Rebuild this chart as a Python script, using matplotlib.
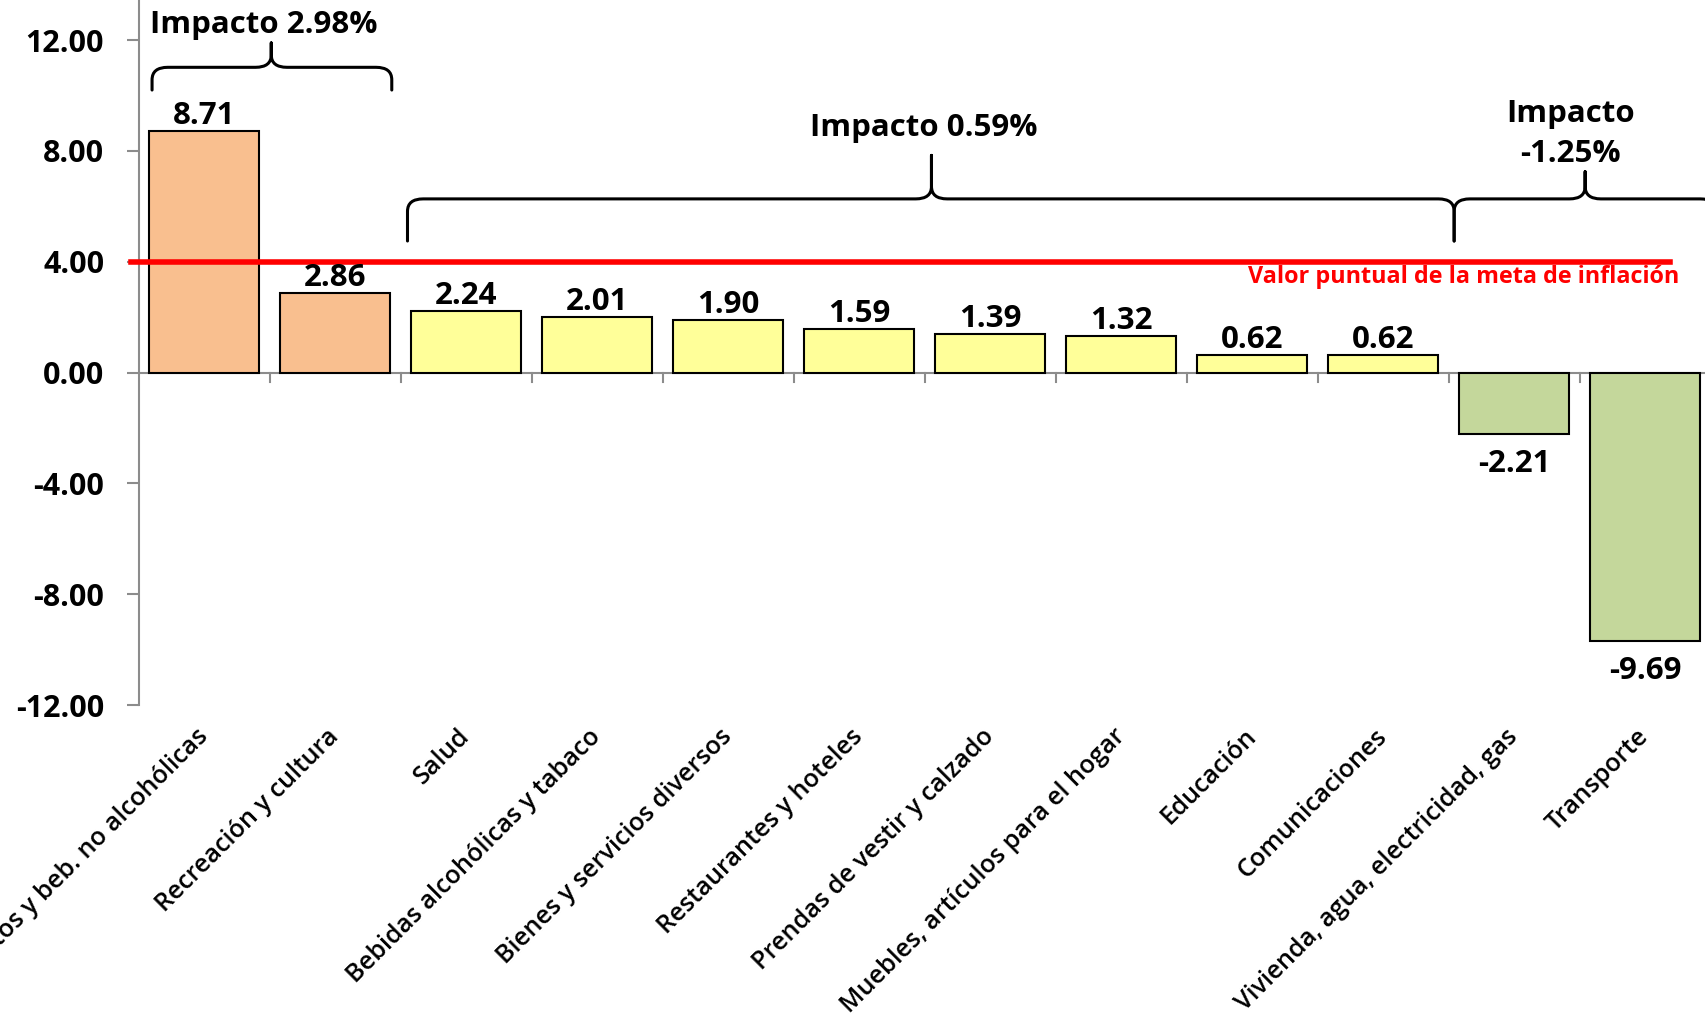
import matplotlib
matplotlib.use("Agg")
import matplotlib.pyplot as plt
from matplotlib.path import Path
from matplotlib.patches import PathPatch

categories = ["Alimentos y beb. no alcohólicas", "Recreación y cultura", "Salud",
              "Bebidas alcohólicas y tabaco", "Bienes y servicios diversos",
              "Restaurantes y hoteles", "Prendas de vestir y calzado",
              "Muebles, artículos para el hogar", "Educación", "Comunicaciones",
              "Vivienda, agua, electricidad, gas", "Transporte"]
values = [8.71, 2.86, 2.24, 2.01, 1.90, 1.59, 1.39, 1.32, 0.62, 0.62, -2.21, -9.69]
groups = ["alto", "alto", "medio", "medio", "medio", "medio", "medio", "medio",
          "medio", "medio", "bajo", "bajo"]
group_colors = {"alto": "#F9BF8F", "medio": "#FFFF99", "bajo": "#C4D79B"}
meta = 4.0
yticks = [-12, -8, -4, 0, 4, 8, 12]

plt.rcParams["font.family"] = ["Open Sans", "DejaVu Sans"]
AXIS_GRAY = "#8C8C8C"
BOLD = "bold"
BIG = 22.5


def brace(ax, x0, x1, xt, yl, ye, yt, rx=0.12, ry=0.45):
    verts = [(x0, ye), (x0, yl - ry), (x0, yl), (x0 + rx, yl),
             (xt - rx, yl), (xt, yl), (xt, yl + ry), (xt, yt),
             (xt, yl + ry), (xt, yl), (xt + rx, yl),
             (x1 - rx, yl), (x1, yl), (x1, yl - ry), (x1, ye)]
    codes = [Path.MOVETO, Path.LINETO, Path.CURVE3, Path.CURVE3,
             Path.LINETO, Path.CURVE3, Path.CURVE3, Path.LINETO,
             Path.LINETO, Path.CURVE3, Path.CURVE3,
             Path.LINETO, Path.CURVE3, Path.CURVE3, Path.LINETO]
    ax.add_patch(PathPatch(Path(verts, codes), fill=False, lw=2.2,
                           edgecolor="black", clip_on=False,
                           joinstyle="round", capstyle="round"))


fig = plt.figure(figsize=(17.05, 10.21), dpi=100)
ax = fig.add_axes([0.0815, 0.3095, 0.9185, 0.6905])

x = list(range(len(categories)))
colors = [group_colors[g] for g in groups]
ax.bar(x, values, width=0.84, color=colors, edgecolor="black", linewidth=1.5, zorder=3)

# value labels
for i, v in enumerate(values):
    if v >= 0:
        ax.annotate(f"{v:.2f}", (i, v), xytext=(0, 0), textcoords="offset points",
                    ha="center", va="bottom", fontsize=BIG, fontweight=BOLD, zorder=5)
    else:
        ax.annotate(f"{v:.2f}", (i, v), xytext=(0, -11), textcoords="offset points",
                    ha="center", va="top", fontsize=BIG, fontweight=BOLD, zorder=5)

# zero line and category separators
ax.axhline(0, color=AXIS_GRAY, lw=1.5, zorder=2)
for k in range(len(categories)):
    ax.plot([k + 0.5, k + 0.5], [0, -0.33], color=AXIS_GRAY, lw=1.5, zorder=2, clip_on=False)

# inflation target
ax.plot([-0.56, 11.19], [meta, meta], color="#FF0000", lw=4, zorder=4, clip_on=False)
ax.text(11.26, 3.45, "Valor puntual de la meta de inflación", color="#FF0000",
        fontsize=16.8, fontweight=BOLD, ha="right", va="center", zorder=5)

# impact braces
brace(ax, -0.40, 1.43, 0.51, 11.02, 10.2, 11.9)
brace(ax, 1.55, 9.54, 5.55, 6.27, 4.75, 7.84)
brace(ax, 9.54, 11.54, 10.54, 6.27, 4.75, 7.25)
ax.text(0.45, 12.55, "Impacto 2.98%", fontsize=BIG, fontweight=BOLD, ha="center", va="center")
ax.text(5.49, 8.82, "Impacto 0.59%", fontsize=BIG, fontweight=BOLD, ha="center", va="center")
ax.text(10.43, 8.62, "Impacto\n-1.25%", fontsize=BIG, fontweight=BOLD, ha="center",
        va="center", linespacing=1.45)

ax.set_xlim(-0.5, 11.455)
ax.set_ylim(-12, 13.45)
ax.set_yticks(yticks)
ax.set_yticklabels([f"{t:.2f}" for t in yticks], fontsize=22, fontweight=BOLD)
ax.tick_params(axis="y", direction="out", length=9, width=1.5, color=AXIS_GRAY, pad=16)
ax.set_xticks(x)
ax.set_xticklabels(categories, rotation=45, ha="right", va="center",
                   rotation_mode="anchor", fontsize=18.2, fontweight="semibold")
ax.tick_params(axis="x", length=0, pad=20)

for side in ["top", "right", "bottom"]:
    ax.spines[side].set_visible(False)
ax.spines["left"].set_color(AXIS_GRAY)
ax.spines["left"].set_linewidth(1.5)

fig.savefig("out.png", dpi=100)
